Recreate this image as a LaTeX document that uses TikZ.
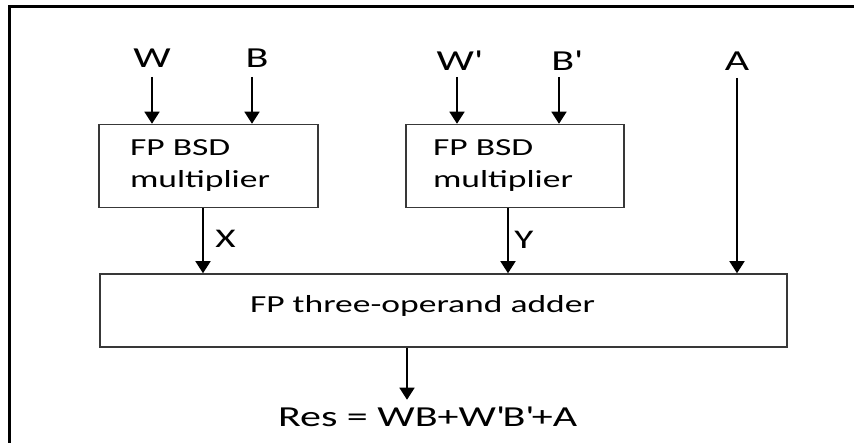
\documentclass[tikz,border=0pt]{standalone}
\usepackage{fontspec}
\setmainfont[FakeStretch=1.45]{Carlito}
\usetikzlibrary{arrows.meta}

\newcommand{\pr}{\textquotesingle}

\tikzset{
  unit/.style={draw=black!78, line width=1.5pt, inner ysep=0pt, align=left,
    font=\fontsize{24.5}{32}\selectfont},
  sig/.style={font=\fontsize{29}{34}\selectfont, inner sep=0pt},
  conn/.style={draw=black, line width=1.4pt,
    -{Triangle[width=15pt,length=12pt]}},
  frameline/.style={draw=black, line width=3pt}
}

\begin{document}
\begin{tikzpicture}[x=1pt,y=-1pt]
  \useasboundingbox (0,0) rectangle (854,443);

  % outer frame (top and left edges)
  \draw[frameline] (9.5,443) -- (9.5,6.5) -- (854,6.5);

  % multipliers
  \node[unit, minimum height=83, text width=157, inner xsep=31]
    (mulA) at (208.5,166) {FP BSD\\multiplier};
  \node[unit, minimum height=83, text width=164, inner xsep=27]
    (mulB) at (515,166) {FP BSD\\multiplier};

  % adder
  \node[draw=black!78, line width=1.5pt, minimum width=687, minimum height=73,
    inner sep=0pt] (adder) at (443.5,310.5) {};
  \node[anchor=base, inner sep=0pt, font=\fontsize{24.5}{30}\selectfont]
    (addertxt) at (422.5,313) {FP three-operand adder};

  % operand labels
  \node[sig, anchor=base] (W)  at (152,68)   {W};
  \node[sig, anchor=base] (B)  at (257,68)   {B};
  \node[sig, anchor=base] (W2) at (458.5,71) {W\pr};
  \node[sig, anchor=base] (B2) at (566,71)   {B\pr};
  \node[sig, anchor=base] (A)  at (737,71)   {A};
  \node[sig, anchor=base, font=\fontsize{27}{30}\selectfont] (X) at (225.5,248) {X};
  \node[sig, anchor=base, font=\fontsize{27}{30}\selectfont] (Y) at (524,249)   {Y};
  \node[sig, anchor=base] (res) at (427.5,426) {Res = WB+W\pr B\pr+A};

  % inputs to the multipliers
  \draw[conn] ([yshift=-9pt]W.base) -- (W.base |- mulA.north);
  \draw[conn] ([xshift=-5pt,yshift=-9pt]B.base) -- ([xshift=-5pt]B.base |- mulA.north);
  \draw[conn] ([xshift=-1.5pt,yshift=-6pt]W2.base) -- ([xshift=-1.5pt]W2.base |- mulB.north);
  \draw[conn] ([xshift=-7pt,yshift=-6pt]B2.base) -- ([xshift=-7pt]B2.base |- mulB.north);

  % products and addend into the adder
  \draw[conn] ([xshift=-5.5pt]mulA.south) -- ([xshift=-5.5pt]mulA.south |- adder.north);
  \draw[conn] ([xshift=-7pt]mulB.south) -- ([xshift=-7pt]mulB.south |- adder.north);
  \draw[conn] ([yshift=-7pt]A.base) -- (A.base |- adder.north);

  % result
  \draw[conn] ([xshift=-36.5pt]adder.south) -- ++(0,52);
\end{tikzpicture}
\end{document}
